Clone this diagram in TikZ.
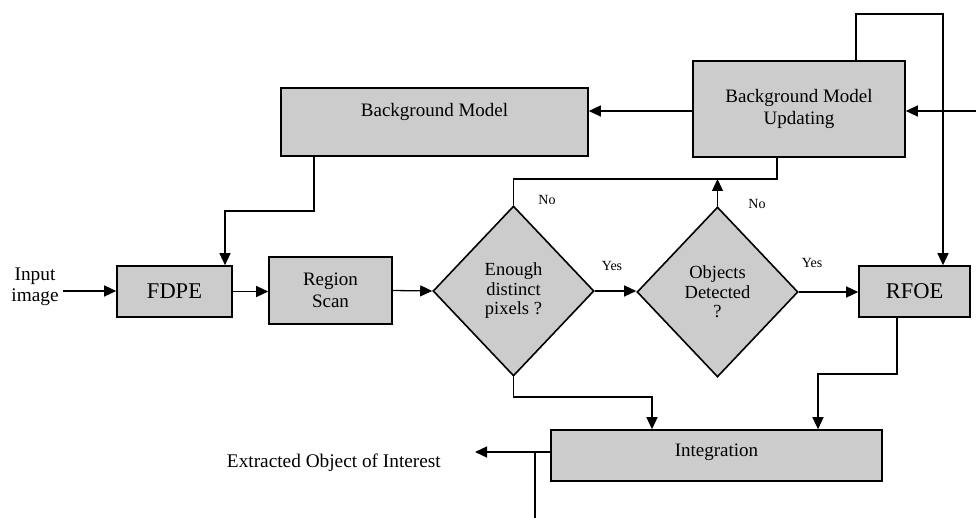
\documentclass[tikz,border=0pt]{standalone}
\usepackage{fontspec}
\setmainfont{Liberation Serif}
\usetikzlibrary{arrows.meta,shapes.geometric}
\definecolor{boxgray}{RGB}{204,204,204}
\begin{document}
\begin{tikzpicture}[x=1pt,y=-1pt,
 box/.style={draw=black, line width=1.6pt, fill=boxgray, inner sep=0pt, align=center, font=\fontsize{19}{21.5}\selectfont},
 bigbox/.style={box, font=\fontsize{22.5}{24}\selectfont},
 dia/.style={draw=black, line width=1.6pt, fill=boxgray, shape=diamond, inner sep=0pt, minimum width=161pt, minimum height=170pt, align=center, font=\fontsize{18.5}{19.5}\selectfont},
 conn/.style={line width=1.3pt, draw=black},
 arr/.style={conn, -{Triangle[length=12pt,width=11pt]}},
 lbl/.style={font=\fontsize{19.3}{21.5}\selectfont, align=center, inner sep=0pt},
 small/.style={font=\fontsize{14}{16}\selectfont, inner sep=0pt}]
\useasboundingbox (0,0) rectangle (976,518);

% nodes
\node[box, minimum width=307pt, minimum height=68pt, text height=28.5pt, text depth=39.5pt] (bm) at (434.5,122) {Background Model};
\node[box, minimum width=212pt, minimum height=96pt] (bmu) at (799,109) {Background Model\\Updating};
\node[bigbox, minimum width=115pt, minimum height=51pt] (fdpe) at (174.5,291.5) {FDPE};
\node[box, minimum width=123pt, minimum height=67pt] (rs) at (330.5,290.5) {Region\\Scan};
\node[dia] (d1) at (513.5,291) {Enough\\distinct\\pixels ?};
\node[dia] (d2) at (717.5,292) {Objects\\Detected\\?};
\node[bigbox, minimum width=111pt, minimum height=51pt] (rfoe) at (914.5,291.5) {RFOE};
\node[box, minimum width=331pt, minimum height=51pt, text height=26.5pt, text depth=24.5pt] (int) at (716.5,455.5) {Integration};
\node[lbl] (in) at (35,287) {Input\\image};
\node[lbl, anchor=base east] (out) at (441,467) {Extracted Object of Interest};

\node[small] (y1) at (612,266) {Yes};
\node[small] (y2) at (812,263) {Yes};
\node[small] (n1) at (547,200) {No};
\node[small] (n2) at (757,204) {No};

% helper coordinates
\coordinate (ins) at (63,291);
\coordinate (j2) at (777,179);
\coordinate (b1) at (314,211);
\coordinate (b2) at (225,211);
\coordinate (t1) at (856,14);
\coordinate (t2) at (943,14);
\coordinate (r0) at (976,111);
\coordinate (c1) at (652,397);
\coordinate (c2) at (897,374);
\coordinate (c3) at (818,374);
\coordinate (o1) at (475,452);
\coordinate (v1) at (535,452);
\coordinate (v2) at (535,518);

% connectors
\draw[arr] (ins) -- (fdpe.west |- ins);
\draw[arr] (fdpe.east) -- (rs.west |- fdpe.east);
\draw[arr] (rs.east) -- (d1.west);
\draw[arr] (d1.east) -- (d2.west |- d1.east);
\draw[arr] (d2.east) -- (rfoe.west |- d2.east);
\draw[conn] (d1.north) |- (j2) -- (bmu.south -| j2);
\draw[arr] (d2.north) -- (d2.north |- j2);
\draw[arr] (bmu.west |- r0) -- (bm.east |- r0);
\draw[arr] (r0) -- (bmu.east |- r0);
\draw[arr] (bm.south -| b1) -- (b1) -- (b2) -- (fdpe.north -| b2);
\draw[arr] (bmu.north -| t1) -- (t1) -- (t2) -- (rfoe.north -| t2);
\draw[arr] (d1.south) |- (c1) -- (int.north -| c1);
\draw[arr] (rfoe.south -| c2) -- (c2) -- (c3) -- (int.north -| c3);
\draw[arr] (int.west |- o1) -- (o1);
\draw[conn] (v1) -- (v2);
\end{tikzpicture}
\end{document}
